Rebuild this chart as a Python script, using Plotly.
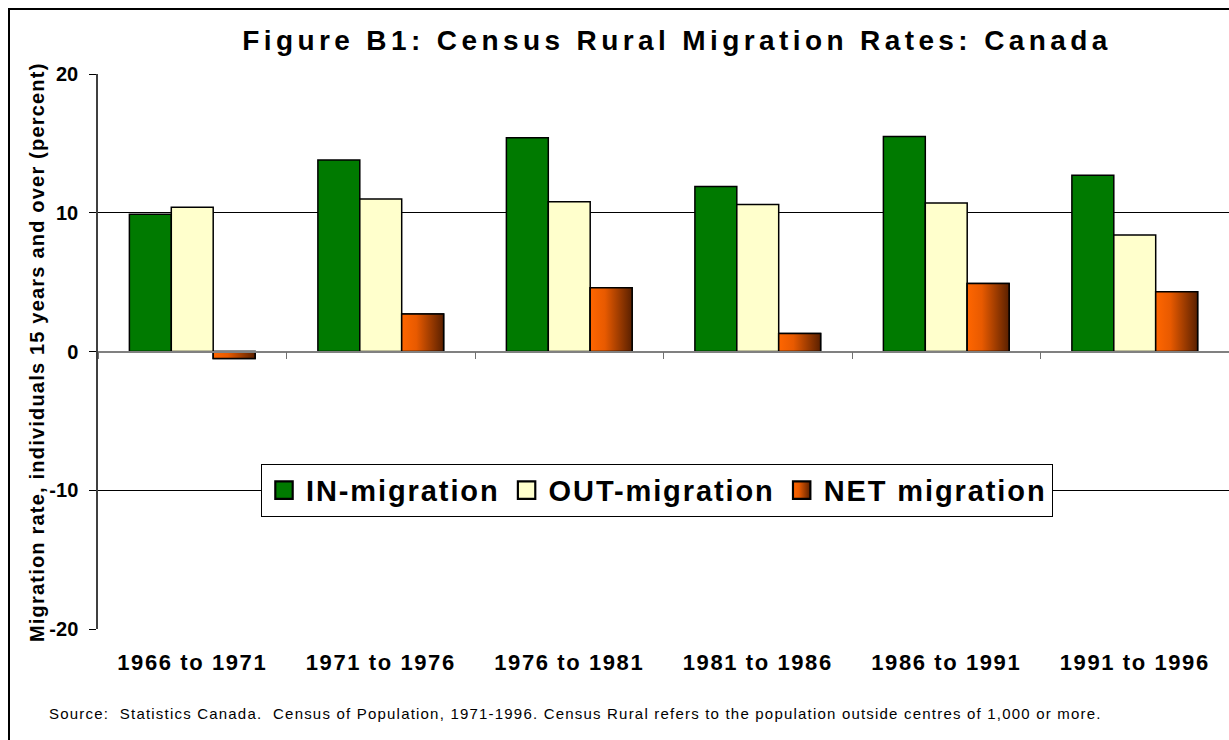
import plotly.graph_objects as go

periods = ["1966 to 1971", "1971 to 1976", "1976 to 1981", "1981 to 1986", "1986 to 1991", "1991 to 1996"]
in_migration = [9.9, 13.8, 15.4, 11.9, 15.5, 12.7]
out_migration = [10.4, 11.0, 10.8, 10.6, 10.7, 8.4]
net_migration = [-0.5, 2.7, 4.6, 1.3, 4.9, 4.3]
y_ticks = [-20, -10, 0, 10, 20]

W, H = 1229, 740
ML, MR, MT, MB = 98, 0, 74, 111
BARGAP = 0.333
n_series = 3
bar_w = (1 - BARGAP) / n_series

FONT = "Liberation Sans, Arial, sans-serif"

xs = list(range(len(periods)))
fig = go.Figure()
fig.add_trace(go.Bar(x=xs, y=in_migration, name="<b>IN-migration</b>",
                     marker=dict(color="#007A00", line=dict(color="black", width=1.5))))
fig.add_trace(go.Bar(x=xs, y=out_migration, name="<b>OUT-migration</b>",
                     marker=dict(color="#FFFFCC", line=dict(color="black", width=1.5))))
fig.add_trace(go.Bar(x=xs, y=net_migration, name="<b>NET migration</b>",
                     marker=dict(color="#C84A00", line=dict(color="black", width=1.5))))

# gradient overlay for NET bars (positioned from the same group geometry)
for i, v in zip(xs, net_migration):
    x0 = i - 0.5 * n_series * bar_w + 2 * bar_w
    x1 = x0 + bar_w
    fig.add_trace(go.Scatter(
        x=[x0, x1, x1, x0, x0], y=[0, 0, v, v, 0], mode="lines", fill="toself",
        fillgradient=dict(type="horizontal",
                          colorscale=[[0, "#FF6600"], [0.35, "#E85A00"], [1, "#5A2000"]]),
        line=dict(color="black", width=1.5), showlegend=False, hoverinfo="skip",
        xaxis="x", yaxis="y"))

fig.update_layout(
    width=W, height=H, autosize=False,
    margin=dict(l=ML, r=MR, t=MT, b=MB, pad=0),
    paper_bgcolor="white", plot_bgcolor="white",
    barmode="group", bargap=BARGAP, bargroupgap=0,
    font=dict(family=FONT, color="black"),
    title=dict(text="<b>Figure B1: Census Rural Migration Rates: Canada</b>",
               x=677 / W, xref="container", xanchor="center",
               y=1 - 40 / H, yref="container", yanchor="middle",
               font=dict(size=28, family=FONT, color="black")),
    xaxis=dict(range=[-0.5, len(periods) - 0.5], tickvals=xs,
               ticktext=["<b>%s</b>" % p for p in periods],
               tickfont=dict(size=22, family=FONT, color="black"),
               showgrid=False, showline=False, ticks="", zeroline=False,
               ticklabelstandoff=18),
    xaxis2=dict(range=[-0.5, len(periods) - 0.5], overlaying="x", anchor="free",
                position=0.5, side="bottom",
                tickvals=[i - 0.5 for i in range(len(periods) + 1)],
                ticks="outside", ticklen=7, tickcolor="#707070", tickwidth=1,
                showticklabels=False, showline=True, linecolor="#808080", linewidth=1.5,
                showgrid=False, zeroline=False),
    yaxis=dict(range=[-20, 20], tickvals=y_ticks,
               ticktext=["<b>%d</b>" % t for t in y_ticks],
               tickfont=dict(size=20, family=FONT, color="black"),
               ticks="outside", ticklen=7, tickcolor="black",
               showline=True, linecolor="#404040", linewidth=1.5,
               showgrid=True, gridcolor="black", gridwidth=1,
               zeroline=False, ticklabelstandoff=7),
    legend=dict(orientation="h", x=(657 - ML) / (W - ML - MR), xanchor="center",
                y=0.25, yanchor="middle", bgcolor="white",
                bordercolor="black", borderwidth=1,
                font=dict(size=29, family=FONT, color="black"),
                traceorder="normal", itemwidth=34),
    showlegend=True,
)

# dummy trace to attach xaxis2
fig.add_trace(go.Scatter(x=[None], y=[None], xaxis="x2", yaxis="y", showlegend=False, hoverinfo="skip"))

pw = W - ML - MR
ph = H - MT - MB
fig.add_annotation(text="<b>Migration rate, individuals 15 years and over (percent)</b>",
                   xref="paper", yref="paper", x=(37 - ML) / pw, y=(H - MB - 352) / ph,
                   xanchor="center", yanchor="middle", textangle=-90, showarrow=False,
                   font=dict(size=20, family=FONT, color="black"))
fig.add_annotation(text="Source:  Statistics Canada.  Census of Population, 1971-1996. Census Rural refers to the population outside centres of 1,000 or more.",
                   xref="paper", yref="paper", x=(47 - ML) / pw, y=(H - MB - 713) / ph,
                   xanchor="left", yanchor="middle", align="left", showarrow=False,
                   font=dict(size=15, family=FONT, color="black"))
# outer chart border
fig.add_shape(type="rect", xref="paper", yref="paper",
              x0=(9 - ML) / pw, x1=1.05, y0=-0.5, y1=(H - MB - 9) / ph,
              line=dict(color="black", width=2), fillcolor="rgba(0,0,0,0)", layer="below")

post = """
document.body.style.margin = '0';
var gd = document.getElementById('{plot_id}');
var st = document.createElement('style');
st.textContent = '.gtitle{letter-spacing:4.4px}' +
  '.xaxislayer-above .xtick text{letter-spacing:1.6px}' +
  '.annotation-text{letter-spacing:1.2px}' +
  '.legendtext{letter-spacing:1.9px}';
document.head.appendChild(st);
function styleLegend() {
  var svg = gd.querySelector('svg.main-svg');
  var ns = 'http://www.w3.org/2000/svg';
  if (svg && !document.getElementById('netgrad')) {
    var defs = svg.querySelector('defs') || svg.insertBefore(document.createElementNS(ns, 'defs'), svg.firstChild);
    var lg = document.createElementNS(ns, 'linearGradient');
    lg.setAttribute('id', 'netgrad');
    lg.setAttribute('x1', '0'); lg.setAttribute('x2', '1');
    lg.setAttribute('y1', '0'); lg.setAttribute('y2', '0');
    [['0', '#FF6600'], ['0.35', '#E85A00'], ['1', '#5A2000']].forEach(function (s) {
      var stp = document.createElementNS(ns, 'stop');
      stp.setAttribute('offset', s[0]); stp.setAttribute('stop-color', s[1]);
      lg.appendChild(stp);
    });
    defs.appendChild(lg);
  }
  var traces = gd.querySelectorAll('.legend .traces');
  traces.forEach(function (tr, k) {
    tr.querySelectorAll('.legendpoints path').forEach(function (p) {
      var t = p.getAttribute('transform') || '';
      if (t.indexOf('scale') < 0) p.setAttribute('transform', t + ' scale(1.45)');
      if (k === 2) p.style.fill = 'url(#netgrad)';
    });
  });
}
Plotly.relayout(gd, {'legend.font.family': 'Liberation Sans, Arial, Helvetica, sans-serif'}).then(styleLegend);
"""

fig.write_html("out.html", post_script=post, config={"displayModeBar": False})
